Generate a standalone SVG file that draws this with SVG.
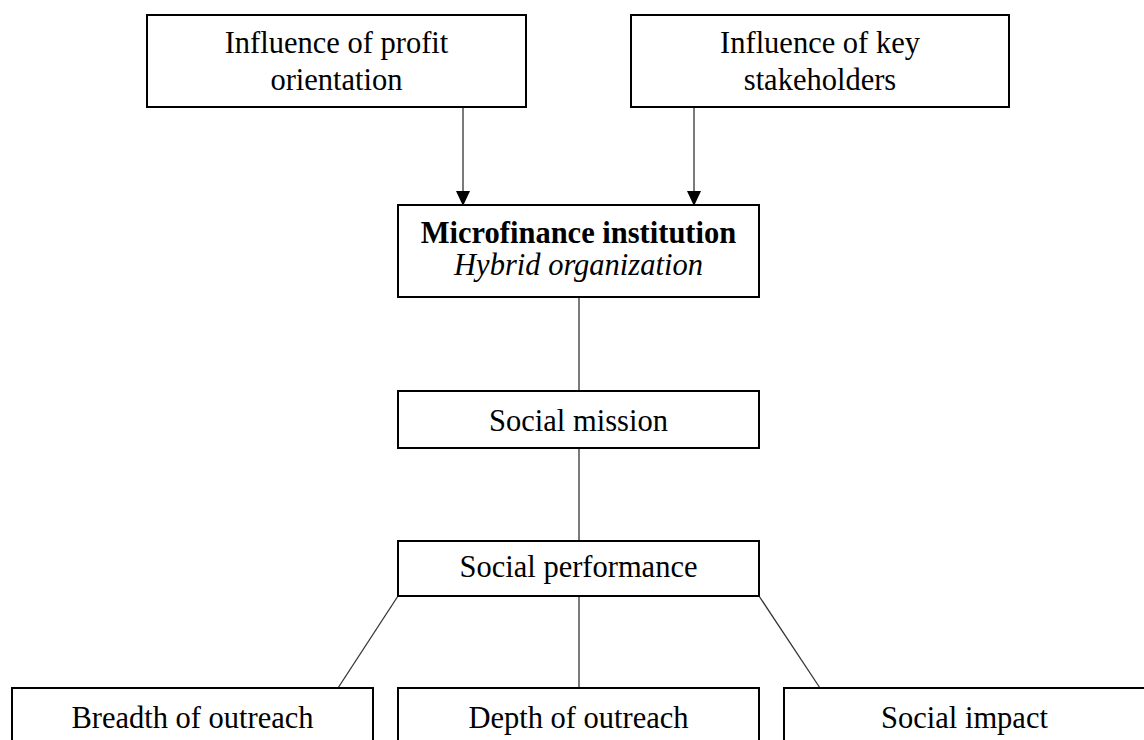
<svg xmlns="http://www.w3.org/2000/svg" width="1144" height="740" viewBox="0 0 1144 740">
<style>
.box{fill:#fff;stroke:#000;stroke-width:2}
.t{font-family:"Liberation Serif","Times New Roman",serif;font-size:30.5px;fill:#000;text-anchor:middle}
.b{font-weight:bold}
.i{font-style:italic}
.c{stroke:#333;stroke-width:1.3;fill:none}
</style>
<defs>
<marker id="ah" viewBox="0 0 14 15" refX="14" refY="7" markerWidth="14" markerHeight="15" markerUnits="userSpaceOnUse" orient="auto">
<path d="M0,0 L15,7 L0,14 Z" fill="#000"/>
</marker>
</defs>
<g id="connectors">
<line class="c" x1="463" y1="107" x2="463" y2="205" marker-end="url(#ah)"/>
<line class="c" x1="694" y1="107" x2="694" y2="205" marker-end="url(#ah)"/>
<line class="c" x1="579" y1="297" x2="579" y2="391"/>
<line class="c" x1="579" y1="448" x2="579" y2="541"/>
<line class="c" x1="579" y1="596" x2="579" y2="688"/>
<line class="c" x1="398" y1="596" x2="338" y2="688"/>
<line class="c" x1="759" y1="596" x2="820" y2="688"/>
</g>
<g id="profit">
<rect class="box" x="147" y="15" width="379" height="92"/>
<text class="t" x="336.5" y="53">Influence of profit</text>
<text class="t" x="336.5" y="90">orientation</text>
</g>
<g id="stakeholders">
<rect class="box" x="631" y="15" width="378" height="92"/>
<text class="t" x="820" y="53">Influence of key</text>
<text class="t" x="820" y="90">stakeholders</text>
</g>
<g id="mfi">
<rect class="box" x="398" y="205" width="361" height="92"/>
<text class="t b" x="578.5" y="243">Microfinance institution</text>
<text class="t i" x="578.5" y="275">Hybrid organization</text>
</g>
<g id="mission">
<rect class="box" x="398" y="391" width="361" height="57"/>
<text class="t" x="578.5" y="431">Social mission</text>
</g>
<g id="performance">
<rect class="box" x="398" y="541" width="361" height="55"/>
<text class="t" x="578.5" y="577">Social performance</text>
</g>
<g id="breadth">
<rect class="box" x="12" y="688" width="361" height="70"/>
<text class="t" x="192.5" y="728">Breadth of outreach</text>
</g>
<g id="depth">
<rect class="box" x="398" y="688" width="361" height="70"/>
<text class="t" x="578.5" y="728">Depth of outreach</text>
</g>
<g id="impact">
<rect class="box" x="784" y="688" width="361" height="70"/>
<text class="t" x="964.5" y="728">Social impact</text>
</g>
</svg>
